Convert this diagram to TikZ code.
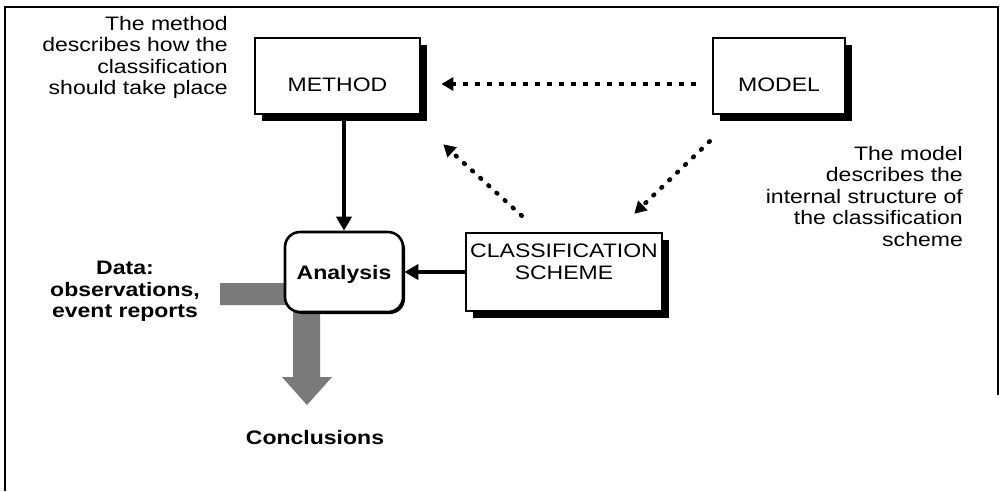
\documentclass[tikz,border=0pt]{standalone}
\usepackage{fontspec}
\setmainfont{Liberation Sans}[FakeStretch=1.18]
\usetikzlibrary{arrows.meta,shadows,calc}

\begin{document}
\begin{tikzpicture}[x=1pt,y=-1pt,
  txt/.style={inner sep=0pt, font=\fontsize{19.5}{21.5}\selectfont},
  boldtxt/.style={txt, font=\fontsize{19.5}{21.5}\selectfont\bfseries},
  frame/.style={line width=2pt},
  box/.style={draw, line width=2.6pt, fill=white, inner sep=0pt,
    drop shadow={shadow xshift=7pt, shadow yshift=-7pt, fill=black, opacity=1}},
  roundbox/.style={draw, line width=2.6pt, fill=white, rounded corners=15pt, inner sep=0pt,
    drop shadow={shadow xshift=2pt, shadow yshift=-2pt, fill=black, opacity=1}},
  solidarrow/.style={line width=4pt, -{Triangle[length=14pt,width=15pt]}},
  dotarrow/.style={line width=4.5pt, line cap=round, dash pattern=on 1pt off 10pt,
    -{Triangle[length=12pt,width=13pt,line cap=butt]}},
  dasharrow/.style={line width=3.5pt, line cap=butt, dash pattern=on 5pt off 7pt,
    -{Triangle[length=12pt,width=13pt]}},
  greyarrow/.style={fill=black!52, draw=none}
]
\useasboundingbox (0,0) rectangle (1000,491);

% outer frame
\draw[frame] (5,491) -- (5,7) -- (998,7) -- (998,395);

% grey data flow arrow (drawn first so the analysis box covers its corner)
\fill[greyarrow] (220,283) -- (320,283) -- (320,377) -- (332,377) -- (307,405)
  -- (282,377) -- (293,377) -- (293,305) -- (220,305) -- cycle;

% boxes
\node[box, minimum width=165pt, minimum height=76pt, txt, text height=30pt, text depth=0pt]
  (method) at (337.5,76) {METHOD};
\node[box, minimum width=132pt, minimum height=76pt, txt, text height=30pt, text depth=0pt]
  (model) at (779,76) {MODEL};
\node[box, minimum width=196pt, minimum height=78pt] (scheme) at (564,272) {};
\node[txt, align=center, anchor=north] (schemetext) at (564,244) {CLASSIFICATION\\SCHEME};
\node[roundbox, minimum width=118pt, minimum height=80pt, boldtxt, text height=14pt, text depth=0pt]
  (analysis) at (344,272) {Analysis};

% solid arrows
\draw[solidarrow] (method.south -| analysis.north) -- (analysis.north);
\draw[solidarrow] (scheme.west) -- (analysis.east);

% dashed and dotted arrows
\draw[dasharrow, shorten <=16pt, shorten >=20pt] ([yshift=-8pt]model.west) -- ([yshift=-8pt]method.east);
\coordinate (schemetail) at ([xshift=57pt,yshift=16pt]scheme.north west);
\coordinate (methodhead) at ([xshift=22pt,yshift=-29pt]method.south east);
\draw[dotarrow] (schemetail) -- (methodhead);
\coordinate (modeltail) at ([xshift=-2pt,yshift=-26pt]model.south west);
\coordinate (schemehead) at ([xshift=-29pt,yshift=18pt]scheme.north east);
\draw[dotarrow] (modeltail) -- (schemehead);

% annotations
\node[txt, align=right, anchor=north east] (methodnote) at (228,16)
  {The method\\describes how the\\classification\\should take place};
\node[txt, align=right, anchor=north east] (modelnote) at (963,146)
  {The model\\describes the\\internal structure of\\the classification\\scheme};
\node[boldtxt, align=center, anchor=north] (data) at (125,261)
  {Data:\\observations,\\event reports};
\node[boldtxt, anchor=base] (conclusions) at (315,444) {Conclusions};
\end{tikzpicture}
\end{document}
